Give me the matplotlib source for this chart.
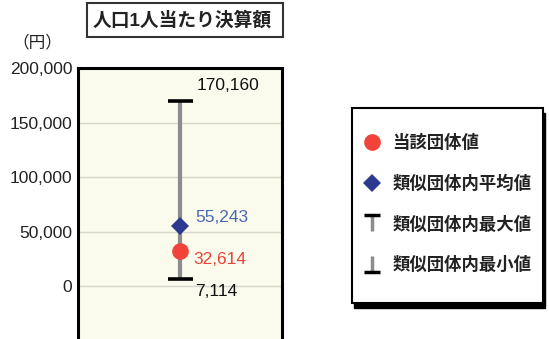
import matplotlib
matplotlib.use('Agg')
import matplotlib.pyplot as plt
from matplotlib.lines import Line2D
from matplotlib.patches import Rectangle
from matplotlib.path import Path
from matplotlib.legend_handler import HandlerTuple

plt.rcParams['font.family'] = ['Liberation Sans', 'Noto Sans CJK JP', 'DejaVu Sans']

# values (yen per person)
own_value = 32614
avg_value = 55243
max_value = 170160
min_value = 7114
y_ticks = [0, 50000, 100000, 150000, 200000]
y_tick_labels = ['0', '50,000', '100,000', '150,000', '200,000']
legend_labels = ['当該団体値', '類似団体内平均値', '類似団体内最大値', '類似団体内最小値']

W, H = 549, 339
fig = plt.figure(figsize=(W / 100, H / 100), dpi=100)
fig.patch.set_facecolor('white')

# plot area: 78..282 px wide, 200,000 at y=68 px, -50,000 just under the bottom edge
ax = fig.add_axes([78 / W, (H - 341) / H, (282 - 78) / W, (341 - 68) / H])
ax.set_facecolor('#fafbec')
ax.set_xlim(-1, 1)
ax.set_ylim(-50000, 200000)
ax.set_yticks(y_ticks)
ax.set_yticklabels(y_tick_labels, fontsize=12.5, color='#222222')
ax.set_xticks([])
ax.tick_params(axis='y', length=0, pad=4)
ax.grid(axis='y', color='#d6d6cc', linewidth=1)
ax.set_axisbelow(True)
for s in ax.spines.values():
    s.set_linewidth(2.2)
    s.set_color('black')

x0 = 0
ax.vlines(x0, min_value, max_value, color='#8c8c8c', linewidth=3, zorder=2)
ax.plot([x0], [max_value], marker='_', markersize=18, markeredgewidth=2.6, color='black', zorder=3)
ax.plot([x0], [min_value], marker='_', markersize=18, markeredgewidth=2.6, color='black', zorder=3)
ax.plot([x0], [avg_value], marker='D', markersize=9, color='#2b3a8f', markeredgewidth=0, zorder=4)
ax.plot([x0], [own_value], marker='o', markersize=12, color='#f2433a', markeredgewidth=0, zorder=5)

def lab(v, dx, dy, color):
    ax.annotate(f'{v:,}', (x0, v), xytext=(dx * 0.72, dy * 0.72), textcoords='offset points',
                ha='left', va='center', fontsize=12.5, color=color)

lab(max_value, 17, 15, '#111111')
lab(avg_value, 15, 9, '#4a68ad')
lab(own_value, 13, -9, '#e8433a')
lab(min_value, 15, -13, '#111111')

# title box
fig.patches.append(Rectangle((87 / W, 1 - 37 / H), 196 / W, 34 / H, transform=fig.transFigure,
                             facecolor='white', edgecolor='#333333', linewidth=1.5))
fig.text(182 / W, 1 - 20 / H, '人口1人当たり決算額', ha='center', va='center', fontsize=13.5,
         fontweight='bold', color='#222222')
fig.text(37 / W, 1 - 42 / H, '（円）', ha='center', va='center', fontsize=12, color='#222222')

# legend box with shadow
lx, ly, lw, lh = 352 / W, 1 - 303 / H, 191 / W, 195 / H
fig.patches.append(Rectangle((lx + 2 / W, ly - 5 / H), lw, lh, transform=fig.transFigure,
                             facecolor='black', edgecolor='black'))
fig.patches.append(Rectangle((lx, ly), lw, lh, transform=fig.transFigure,
                             facecolor='white', edgecolor='black', linewidth=1.5))

stem = Path([(0, 0.5), (0, -0.5)], [Path.MOVETO, Path.LINETO])
bar_top = Path([(-0.5, 0.5), (0.5, 0.5)], [Path.MOVETO, Path.LINETO])
bar_bot = Path([(-0.5, -0.5), (0.5, -0.5)], [Path.MOVETO, Path.LINETO])

def t_handle(bar):
    return (Line2D([], [], linestyle='none', marker=stem, markersize=11.5, markeredgecolor='#8c8c8c',
                   markeredgewidth=2.5, fillstyle='none'),
            Line2D([], [], linestyle='none', marker=bar, markersize=11.5, markeredgecolor='black',
                   markeredgewidth=2.5, fillstyle='none'))

h_own = Line2D([], [], linestyle='none', marker='o', markersize=12, color='#f2433a', markeredgewidth=0)
h_avg = Line2D([], [], linestyle='none', marker='D', markersize=9, color='#2b3a8f', markeredgewidth=0)

leg = fig.legend([h_own, h_avg, t_handle(bar_top), t_handle(bar_bot)], legend_labels,
                 handler_map={tuple: HandlerTuple(ndivide=1, pad=0)},
                 loc='upper left', bbox_to_anchor=(362 / W, 1 - 134 / H), frameon=False,
                 handlelength=1.2, handletextpad=0.55, labelspacing=1.35,
                 borderpad=0, borderaxespad=0, prop={'weight': 'bold', 'size': 12.5})
for t in leg.get_texts():
    t.set_color('#222222')

fig.savefig('out.png', dpi=100)
